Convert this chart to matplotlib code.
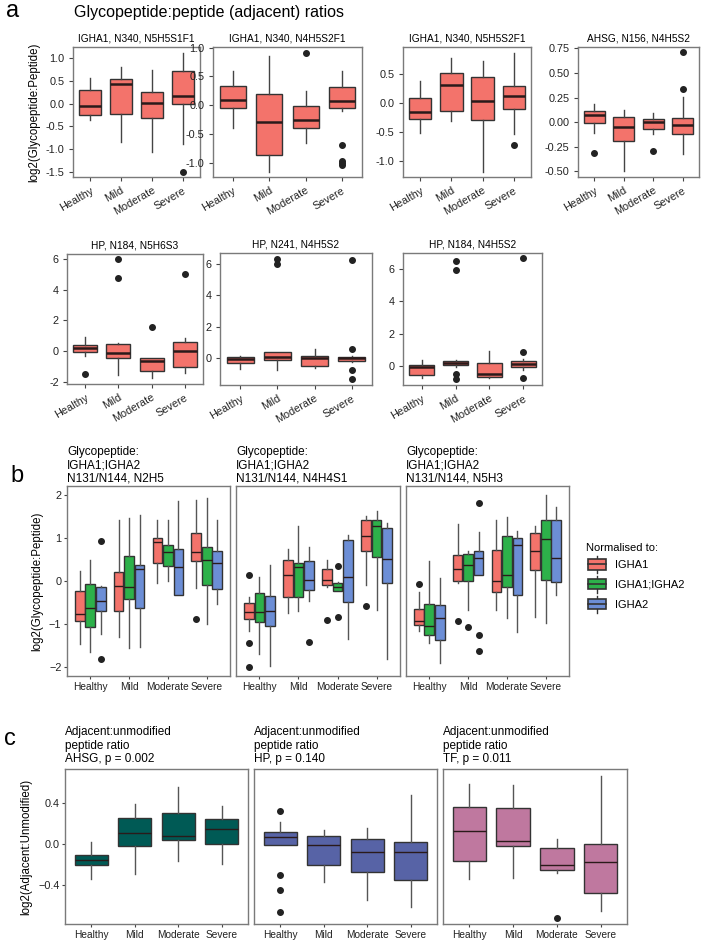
import matplotlib
matplotlib.use('Agg')
import matplotlib.pyplot as plt
from matplotlib.legend_handler import HandlerBase
from matplotlib.patches import Rectangle, Patch
from matplotlib.lines import Line2D

plt.rcParams['font.family'] = ['Liberation Sans', 'DejaVu Sans']

W, H = 701, 941
groups = ['Healthy', 'Mild', 'Moderate', 'Severe']

# ---- panel a: (whislo, q1, med, q3, whishi) per group, plus outliers
a_titles = ['IGHA1, N340, N5H5S1F1', 'IGHA1, N340, N4H5S2F1', 'IGHA1, N340, N5H5S2F1',
            'AHSG, N156, N4H5S2', 'HP, N184, N5H6S3', 'HP, N241, N4H5S2', 'HP, N184, N4H5S2']
a1_stats = [(-0.35, -0.25, -0.06, 0.29, 0.56), (-0.83, -0.23, 0.43, 0.53, 0.80),
            (-1.05, -0.32, 0.01, 0.25, 0.74), (-0.88, -0.02, 0.17, 0.70, 1.11)]
a1_out = [[], [], [], [-1.49]]
a2_stats = [(-0.40, -0.05, 0.09, 0.34, 0.60), (-1.16, -0.86, -0.28, 0.20, 0.86),
            (-0.66, -0.40, -0.26, -0.01, 0.24), (-0.10, -0.05, 0.08, 0.31, 0.60)]
a2_out = [[], [], [0.91], [-0.68, -0.97, -1.0, -1.03]]
a3_stats = [(-0.51, -0.27, -0.16, 0.09, 0.39), (-0.31, -0.13, 0.32, 0.52, 0.78),
            (-1.19, -0.29, 0.03, 0.45, 0.72), (-0.53, -0.10, 0.12, 0.30, 0.87)]
a3_out = [[], [], [], [-0.72]]
a4_stats = [(-0.11, -0.01, 0.075, 0.11, 0.18), (-0.50, -0.19, -0.05, 0.05, 0.12),
            (-0.12, -0.07, 0.0, 0.035, 0.09), (-0.33, -0.12, -0.03, 0.04, 0.255)]
a4_out = [[-0.32], [], [-0.29], [0.71, 0.34]]
a5_stats = [(-0.30, -0.07, 0.18, 0.39, 0.94), (-1.59, -0.46, -0.11, 0.48, 0.50),
            (-1.78, -1.31, -0.65, -0.48, -0.45), (-1.46, -1.03, 0.0, 0.61, 0.83)]
a5_out = [[-1.5], [6.0, 4.8], [1.55], [5.01]]
a6_stats = [(-0.68, -0.32, -0.05, 0.06, 0.15), (-0.75, -0.11, 0.06, 0.38, 0.42),
            (-0.64, -0.49, 0.0, 0.15, 0.59), (-0.25, -0.15, 0.0, 0.10, 0.15)]
a6_out = [[], [6.3, 6.0], [], [6.23, 0.6, -0.75, -1.34]]
a7_stats = [(-0.73, -0.56, -0.08, 0.02, 0.37), (-0.10, 0.04, 0.17, 0.31, 0.35),
            (-0.77, -0.69, -0.52, 0.17, 0.94), (-0.25, -0.08, 0.12, 0.27, 0.42)]
a7_out = [[], [6.52, 5.96, -0.52, -0.83], [], [6.67, 0.86, -0.73]]
a_ticks = [[-1.5, -1.0, -0.5, 0.0, 0.5, 1.0], [-1.0, -0.5, 0.0, 0.5, 1.0], [-1.0, -0.5, 0.0, 0.5],
           [-0.5, -0.25, 0.0, 0.25, 0.5, 0.75], [-2, 0, 2, 4, 6], [0, 2, 4, 6], [0, 2, 4, 6]]
a_ylims = [(-1.6, 1.23), (-1.24, 1.01), (-1.28, 0.97), (-0.56, 0.765),
           (-2.16, 6.34), (-1.7, 6.7), (-1.19, 7.0)]

# ---- panel b: three normalisations per glycopeptide
b_titles = ['Glycopeptide:\nIGHA1;IGHA2\nN131/N144, N2H5',
            'Glycopeptide:\nIGHA1;IGHA2\nN131/N144, N4H4S1',
            'Glycopeptide:\nIGHA1;IGHA2\nN131/N144, N5H3']
norm_labels = ['IGHA1', 'IGHA1;IGHA2', 'IGHA2']
b1_red = [(-1.47, -0.93, -0.76, -0.23, 0.23), (-1.31, -0.70, -0.12, 0.21, 1.41),
          (-0.04, 0.43, 0.90, 1.01, 1.42), (-0.16, 0.46, 0.68, 1.11, 1.89)]
b1_red_out = [[], [], [], [-0.89]]
b1_green = [(-1.66, -1.07, -0.62, -0.07, 0.50), (-1.57, -0.42, -0.15, 0.57, 1.47),
            (-0.01, 0.36, 0.67, 0.84, 1.42), (-1.01, -0.10, 0.50, 0.79, 1.93)]
b1_green_out = [[], [], [], []]
b1_blue = [(-1.24, -0.70, -0.46, -0.14, -0.12), (-1.53, -0.63, 0.29, 0.38, 1.54),
           (-0.33, -0.33, 0.32, 0.75, 1.85), (-0.54, -0.18, 0.43, 0.70, 1.42)]
b1_blue_out = [[0.94, -1.82], [], [], []]
b2_red = [(-1.17, -0.88, -0.73, -0.51, -0.38), (-0.74, -0.37, 0.15, 0.50, 0.75),
          (-0.14, -0.09, 0.02, 0.27, 0.50), (-0.09, 0.70, 1.04, 1.41, 1.51)]
b2_red_out = [[0.13, -1.45, -2.0], [], [-0.90], [-0.58]]
b2_green = [(-1.70, -0.95, -0.72, -0.27, 0.09), (-0.70, -0.37, 0.33, 0.43, 1.28),
            (-0.23, -0.23, -0.15, -0.04, -0.02), (-0.68, 0.56, 1.28, 1.41, 1.62)]
b2_green_out = [[], [], [0.36, -0.84], []]
b2_blue = [(-1.98, -1.05, -0.69, -0.35, 0.38), (-0.46, -0.22, 0.02, 0.47, 0.79),
           (-1.36, -0.49, 0.09, 0.96, 1.06), (-1.82, -0.04, 0.51, 1.23, 1.35)]
b2_blue_out = [[], [-1.42], [], []]
b3_red = [(-1.16, -1.02, -0.92, -0.64, -0.26), (-0.05, 0.0, 0.29, 0.61, 1.33),
          (-0.68, -0.25, 0.0, 0.73, 1.43), (-0.84, 0.26, 0.69, 1.12, 1.29)]
b3_red_out = [[-0.06], [-0.94], [], []]
b3_green = [(-1.44, -1.25, -1.04, -0.53, 0.46), (-0.67, 0.0, 0.38, 0.63, 0.70),
            (-0.85, -0.15, 0.13, 1.05, 1.49), (-0.97, 0.02, 0.98, 1.42, 1.99)]
b3_green_out = [[], [-1.08], [], []]
b3_blue = [(-1.90, -1.38, -0.86, -0.55, 0.08), (0.14, 0.14, 0.54, 0.69, 1.14),
           (-1.18, -0.33, 0.83, 1.01, 1.16), (-0.33, -0.02, 0.54, 1.42, 1.72)]
b3_blue_out = [[], [1.82, -1.26, -1.64], [], []]

# ---- panel c
c_titles = ['Adjacent:unmodified\npeptide ratio\nAHSG, p = 0.002',
            'Adjacent:unmodified\npeptide ratio\nHP, p = 0.140',
            'Adjacent:unmodified\npeptide ratio\nTF, p = 0.011']
c1_stats = [(-0.34, -0.21, -0.16, -0.11, 0.016), (-0.29, -0.02, 0.105, 0.25, 0.39),
            (-0.17, 0.036, 0.08, 0.30, 0.55), (-0.20, 0.0, 0.15, 0.24, 0.37)]
c1_out = [[], [], [], []]
c2_stats = [(-0.007, -0.007, 0.07, 0.115, 0.21), (-0.37, -0.21, -0.007, 0.08, 0.14),
            (-0.55, -0.27, -0.08, 0.046, 0.16), (-0.61, -0.35, -0.08, 0.016, 0.475)]
c2_out = [[0.32, -0.30, -0.45, -0.66], [], [], []]
c3_stats = [(-0.34, -0.17, 0.13, 0.36, 0.58), (-0.33, -0.02, 0.03, 0.35, 0.57),
            (-0.28, -0.25, -0.21, -0.04, 0.05), (-0.65, -0.475, -0.18, 0.0, 0.66)]
c3_out = [[], [], [-0.72], []]

a_fill = '#F3736B'
b_fills = ['#F3736B', '#2DB14A', '#6C8ED6']
c_fills = ['#005A55', '#5763A6', '#BF789F']


def rect(l, t, r, b):
    return [l / W, 1 - b / H, (r - l) / W, (b - t) / H]


def mk(stats, outs):
    return [dict(whislo=s[0], q1=s[1], med=s[2], q3=s[3], whishi=s[4], fliers=o)
            for s, o in zip(stats, outs)]


def draw(ax, stats, outs, pos, width, fc, med_lw=1.0, wcol='#444444'):
    ax.bxp(mk(stats, outs), positions=pos, widths=width, patch_artist=True,
           showcaps=False, manage_ticks=False,
           boxprops=dict(facecolor=fc, edgecolor='#333333', lw=1),
           medianprops=dict(color='#2a1a1a', lw=med_lw),
           whiskerprops=dict(color=wcol, lw=1),
           flierprops=dict(marker='o', markerfacecolor='#222222',
                           markeredgecolor='#222222', markersize=4))


def style(ax, length=3, pad=3):
    for s in ax.spines.values():
        s.set_color('#7a7a7a')
        s.set_linewidth(1)
    ax.tick_params(length=length, pad=pad, width=0.8, color='#444444', labelcolor='#222222')


fig = plt.figure(figsize=(W / 100, H / 100), dpi=100)

# panel a
a_boxes = [(73, 47, 200, 177), (213, 47, 362, 177), (403, 47, 531, 177), (578, 47, 699, 177),
           (67, 254, 203, 384), (220, 253, 372, 385), (403, 253, 542, 385)]
a_stats = [a1_stats, a2_stats, a3_stats, a4_stats, a5_stats, a6_stats, a7_stats]
a_outs = [a1_out, a2_out, a3_out, a4_out, a5_out, a6_out, a7_out]
for i in range(7):
    ax = fig.add_axes(rect(*a_boxes[i]))
    draw(ax, a_stats[i], a_outs[i], [1, 2, 3, 4], 0.72, a_fill, med_lw=1.8)
    ax.set_xlim(0.45, 4.55)
    ax.set_ylim(*a_ylims[i])
    t = a_ticks[i]
    if i == 3:
        lab = [f'{v:.2f}' for v in t]
    elif i >= 4:
        lab = [f'{v:d}' for v in t]
    else:
        lab = [f'{v:.1f}' for v in t]
    ax.set_yticks(t, labels=lab, fontsize=7.8)
    ax.set_xticks([1, 2, 3, 4], labels=groups, fontsize=7.8, rotation=30,
                  ha='right', rotation_mode='anchor')
    ax.set_title(a_titles[i], fontsize=7.3, pad=4)
    style(ax)
    if i == 0:
        ax.set_ylabel('log2(Glycopeptide:Peptide)', fontsize=8.3, labelpad=4)

fig.text(6 / W, 1 - 17 / H, 'a', fontsize=17, va='baseline')
fig.text(74 / W, 1 - 17 / H, 'Glycopeptide:peptide (adjacent) ratios', fontsize=11.5,
         va='baseline')

# panel b
b_boxes = [(67, 486, 230, 676), (236, 486, 400, 676), (406, 486, 569, 676)]
b_sets = [[(b1_red, b1_red_out), (b1_green, b1_green_out), (b1_blue, b1_blue_out)],
          [(b2_red, b2_red_out), (b2_green, b2_green_out), (b2_blue, b2_blue_out)],
          [(b3_red, b3_red_out), (b3_green, b3_green_out), (b3_blue, b3_blue_out)]]
offsets = [-0.27, 0.0, 0.27]
for i in range(3):
    ax = fig.add_axes(rect(*b_boxes[i]))
    for k in range(3):
        st, ou = b_sets[i][k]
        draw(ax, st, ou, [p + offsets[k] for p in [1, 2, 3, 4]], 0.25, b_fills[k],
             wcol='#555555')
    ax.set_xlim(0.4, 4.6)
    ax.set_ylim(-2.21, 2.21)
    ax.set_xticks([1, 2, 3, 4], labels=groups, fontsize=7.3)
    if i == 0:
        ax.set_yticks([-2, -1, 0, 1, 2], labels=['\u22122', '\u22121', '0', '1', '2'],
                      fontsize=7.8)
        ax.set_ylabel('log2(Glycopeptide:Peptide)', fontsize=8.3, labelpad=4)
    else:
        ax.set_yticks([])
    ax.set_title(b_titles[i], loc='left', fontsize=8.5, pad=3, linespacing=1.15)
    style(ax, length=2.5, pad=1.5)

fig.text(10 / W, 1 - 482 / H, 'b', fontsize=17, va='baseline')


class BoxKey(HandlerBase):
    def create_artists(self, legend, orig, xd, yd, w, h, fontsize, trans):
        x0, y0 = -xd, -yd
        r = Rectangle((x0 + 0.1 * w, y0 + 0.2 * h), 0.8 * w, 0.6 * h,
                      facecolor=orig.get_facecolor(), edgecolor='#333333', lw=1.2,
                      transform=trans)
        m = Line2D([x0 + 0.1 * w, x0 + 0.9 * w], [y0 + 0.5 * h] * 2, color='#333333',
                   lw=1.2, transform=trans)
        w1 = Line2D([x0 + 0.5 * w] * 2, [y0, y0 + 0.2 * h], color='#333333', lw=1,
                    transform=trans)
        w2 = Line2D([x0 + 0.5 * w] * 2, [y0 + 0.8 * h, y0 + h], color='#333333', lw=1,
                    transform=trans)
        return [w1, w2, r, m]


handles = [Patch(facecolor=c) for c in b_fills]
fig.legend(handles, norm_labels, title='Normalised to:', loc='upper left',
           bbox_to_anchor=(586 / W, 1 - 543 / H), frameon=False, fontsize=8,
           title_fontsize=8, alignment='left', borderpad=0, borderaxespad=0,
           handlelength=2.0, handleheight=2.0, handletextpad=0.6, labelspacing=0.25,
           handler_map={Patch: BoxKey()})

# panel c
c_boxes = [(65, 769, 248, 924), (254, 769, 437, 924), (443, 769, 627, 924)]
c_stats = [c1_stats, c2_stats, c3_stats]
c_outs = [c1_out, c2_out, c3_out]
for i in range(3):
    ax = fig.add_axes(rect(*c_boxes[i]))
    draw(ax, c_stats[i], c_outs[i], [1, 2, 3, 4], 0.76, c_fills[i], wcol='#555555')
    ax.set_xlim(0.4, 4.6)
    ax.set_ylim(-0.78, 0.73)
    ax.set_xticks([1, 2, 3, 4], labels=groups, fontsize=7.3)
    if i == 0:
        ax.set_yticks([-0.4, 0.0, 0.4], labels=['\u22120.4', '0.0', '0.4'], fontsize=7.8)
        ax.set_ylabel('log2(Adjacent:Unmodified)', fontsize=8.3, labelpad=4)
    else:
        ax.set_yticks([])
    ax.set_title(c_titles[i], loc='left', fontsize=8.5, pad=5, linespacing=1.15)
    style(ax, length=2.5, pad=1.5)

fig.text(4 / W, 1 - 745 / H, 'c', fontsize=17, va='baseline')

fig.savefig('out.png', dpi=100)
